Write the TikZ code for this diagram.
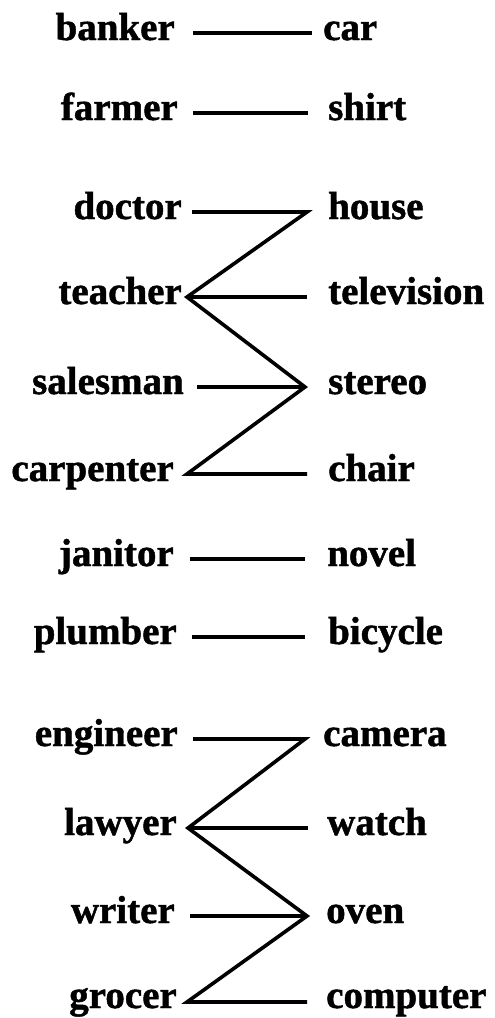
\documentclass[tikz,border=0pt]{standalone}
\usepackage{fontspec}
\setmainfont[BoldFeatures={FakeBold=1.2}]{Liberation Serif}
\begin{document}
\begin{tikzpicture}[x=1pt,y=-1pt,
  word/.style={font=\fontsize{39}{45}\selectfont\bfseries, inner sep=0pt},
  lw/.style={word, anchor=base east},
  rw/.style={word, anchor=base west},
  link/.style={line width=3.6pt, line join=miter}]
\useasboundingbox (0,0) rectangle (495,1018);
% left words
\node[lw] (banker)    at (175,40)   {banker};
\node[lw] (farmer)    at (178,120)  {farmer};
\node[lw] (doctor)    at (182,219)  {doctor};
\node[lw] (teacher)   at (182,304)  {teacher};
\node[lw] (salesman)  at (184,394)  {salesman};
\node[lw] (carpenter) at (174,481)  {carpenter};
\node[lw] (janitor)   at (174,566)  {janitor};
\node[lw] (plumber)   at (177,644)  {plumber};
\node[lw] (engineer)  at (178,746)  {engineer};
\node[lw] (lawyer)    at (177,835)  {lawyer};
\node[lw] (writer)    at (175,923)  {writer};
\node[lw] (grocer)    at (177,1008) {grocer};
% right words
\node[rw] (car)        at (323,40)   {car};
\node[rw] (shirt)      at (328,120)  {shirt};
\node[rw] (house)      at (328,219)  {house};
\node[rw] (television) at (328,304)  {television};
\node[rw] (stereo)     at (328,394)  {stereo};
\node[rw] (chair)      at (328,481)  {chair};
\node[rw] (novel)      at (327,566)  {novel};
\node[rw] (bicycle)    at (328,644)  {bicycle};
\node[rw] (camera)     at (323,746)  {camera};
\node[rw] (watch)      at (327,835)  {watch};
\node[rw] (oven)       at (326,923)  {oven};
\node[rw] (computer)   at (326,1008) {computer};
% connector end points
\coordinate (bankerL) at (193,33);   \coordinate (carR) at (312,33);
\coordinate (farmerL) at (193,113);  \coordinate (shirtR) at (308,113);
\coordinate (doctorL) at (192,212);  \coordinate (houseR) at (307,212);
\coordinate (teacherA) at (187,297); \coordinate (televisionR) at (307,297);
\coordinate (salesmanL) at (197,387);\coordinate (stereoA) at (305,387);
\coordinate (carpenterA) at (187,474);\coordinate (chairR) at (307,474);
\coordinate (janitorL) at (190,559); \coordinate (novelR) at (305,559);
\coordinate (plumberL) at (192,637); \coordinate (bicycleR) at (305,637);
\coordinate (engineerL) at (193,739);\coordinate (cameraR) at (305,739);
\coordinate (lawyerA) at (188,828);  \coordinate (watchR) at (308,828);
\coordinate (writerL) at (190,916);  \coordinate (ovenA) at (307,916);
\coordinate (grocerA) at (187,1002); \coordinate (computerR) at (307,1002);
% connectors
\draw[link] (bankerL) -- (carR);
\draw[link] (farmerL) -- (shirtR);
\draw[link] (doctorL) -- (houseR) -- (teacherA) -- (stereoA) -- (carpenterA) -- (chairR);
\draw[link] (televisionR) -- (teacherA);
\draw[link] (salesmanL) -- (stereoA);
\draw[link] (janitorL) -- (novelR);
\draw[link] (plumberL) -- (bicycleR);
\draw[link] (engineerL) -- (cameraR) -- (lawyerA) -- (ovenA) -- (grocerA) -- (computerR);
\draw[link] (watchR) -- (lawyerA);
\draw[link] (writerL) -- (ovenA);
\end{tikzpicture}
\end{document}
